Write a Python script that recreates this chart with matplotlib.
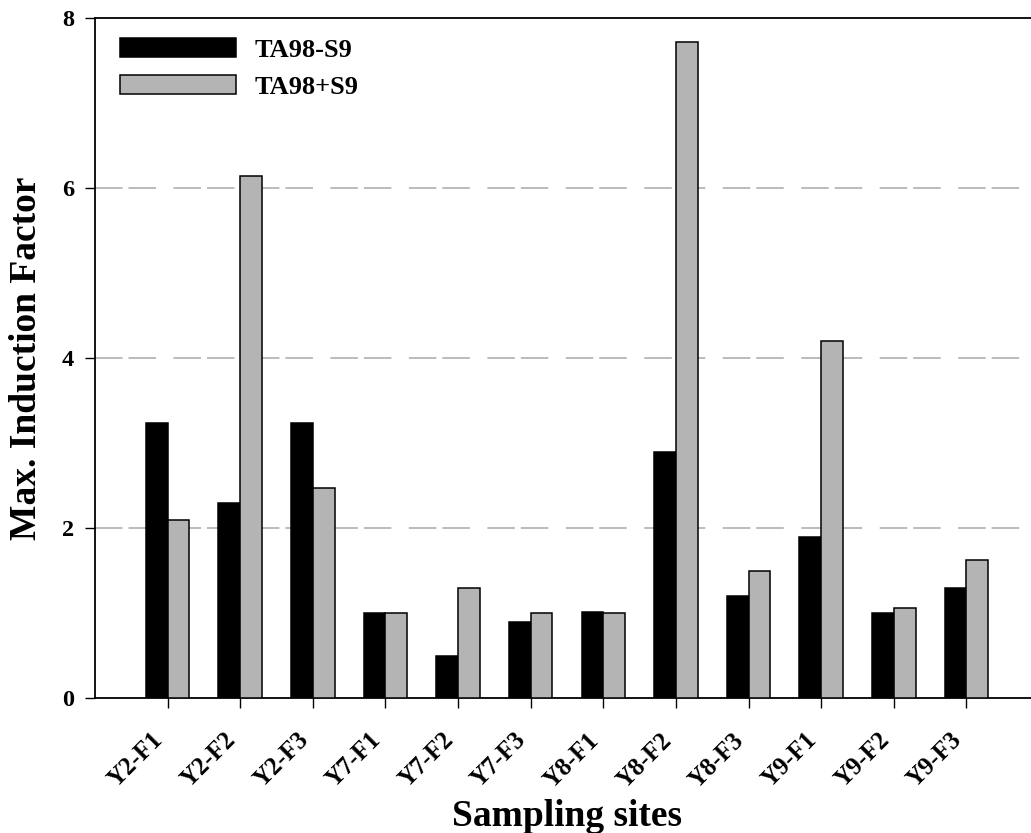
import numpy as np
import matplotlib
matplotlib.use("Agg")
import matplotlib.pyplot as plt

# max induction factor per sampling site
sites = ['Y2-F1', 'Y2-F2', 'Y2-F3', 'Y7-F1', 'Y7-F2', 'Y7-F3',
         'Y8-F1', 'Y8-F2', 'Y8-F3', 'Y9-F1', 'Y9-F2', 'Y9-F3']
ta98_minus = [3.24, 2.30, 3.24, 1.00, 0.50, 0.90, 1.01, 2.90, 1.20, 1.90, 1.00, 1.30]
ta98_plus = [2.10, 6.14, 2.47, 1.00, 1.30, 1.00, 1.00, 7.72, 1.50, 4.20, 1.06, 1.62]

plt.rcParams['font.family'] = ['Liberation Serif', 'DejaVu Serif']
plt.rcParams['font.weight'] = 'bold'
plt.rcParams['lines.scale_dashes'] = False

W, H = 1031, 833
fig = plt.figure(figsize=(W / 100, H / 100), dpi=100)
ax = fig.add_axes([95 / W, (H - 698) / H, (1039 - 95) / W, (698 - 18) / H])

x = np.arange(len(sites))
bw = 0.3
ax.bar(x - bw / 2, ta98_minus, bw, color='black', edgecolor='black',
       linewidth=1.1, label='TA98-S9', zorder=3)
ax.bar(x + bw / 2, ta98_plus, bw, color='#b4b4b4', edgecolor='black',
       linewidth=1.1, label='TA98+S9', zorder=3)

ax.set_xlim(-1, 12)
ax.set_ylim(0, 8)
ax.set_yticks([0, 2, 4, 6, 8])
ax.set_xticks(x)
ax.set_xticklabels(sites, rotation=45, ha='right')

# dashed grid at 2, 4, 6 only
for yv in [2, 4, 6]:
    ax.axhline(yv, color='#bbbbbb', linewidth=1.4,
               linestyle=(0, (19.8, 4.3, 19.8, 12.6)), zorder=1)

for s in ax.spines.values():
    s.set_linewidth(1.3)
ax.tick_params(axis='both', direction='out', length=7, width=1)
ax.tick_params(axis='y', pad=8, labelsize=17.5)
ax.tick_params(axis='x', pad=15, labelsize=18)

ax.set_ylabel('Max. Induction Factor', fontsize=27, fontweight='bold', labelpad=13)
ax.set_xlabel('Sampling sites', fontsize=27, fontweight='bold', labelpad=5)

ax.legend(loc='upper left', bbox_to_anchor=(120 / W, 1 - 38 / H),
          bbox_transform=fig.transFigure, frameon=False, fontsize=19,
          handlelength=4.4, handleheight=0.74, handletextpad=0.7,
          labelspacing=0.5, borderpad=0, borderaxespad=0)

fig.savefig('out.png', dpi=100)
